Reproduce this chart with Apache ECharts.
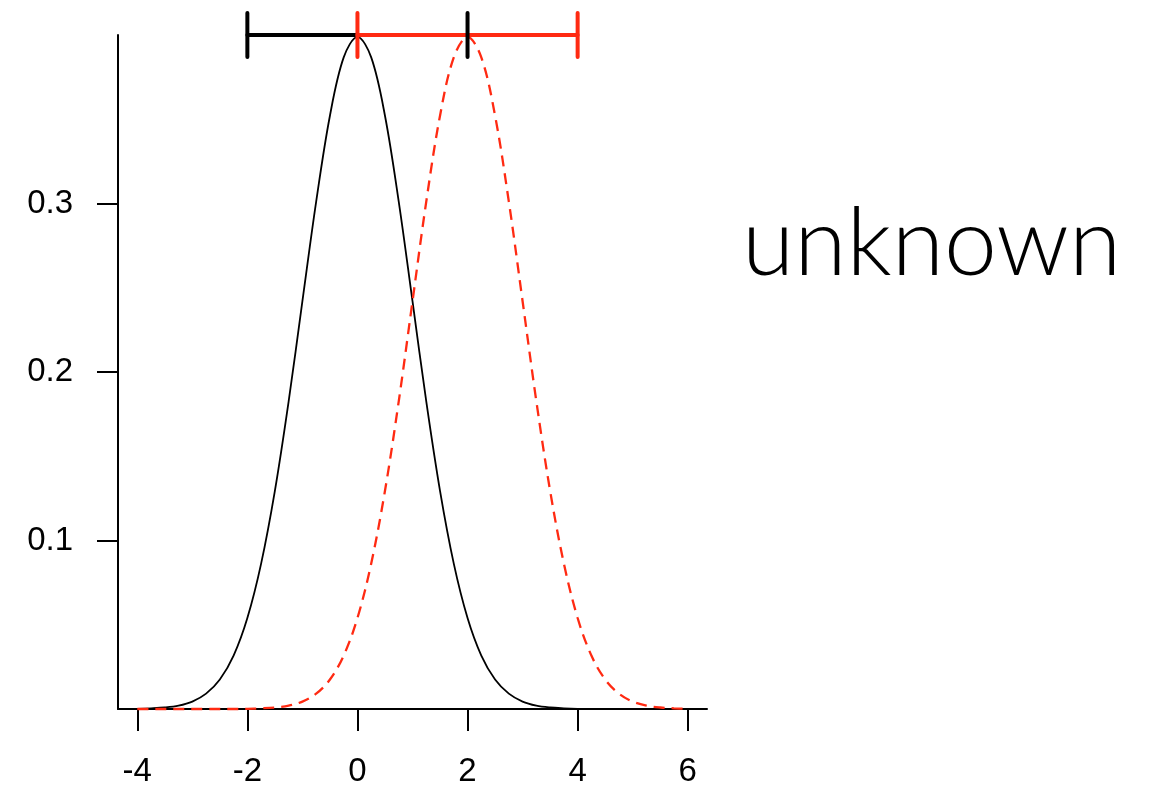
<!DOCTYPE html>
<html>
<head>
<meta charset="utf-8">
<script src="https://cdn.jsdelivr.net/npm/echarts@6/dist/echarts.min.js"></script>
<style>
  html, body { margin: 0; padding: 0; background: #fff; }
  #chart { width: 1154px; height: 789px; }
</style>
</head>
<body>
<div id="chart"></div>
<script>
// x positions shared by both density curves
const xValues = [-4, -3.75, -3.5, -3.25, -3, -2.75, -2.5, -2.25, -2, -1.75, -1.5, -1.25, -1, -0.75, -0.5, -0.25,
  0, 0.25, 0.5, 0.75, 1, 1.25, 1.5, 1.75, 2, 2.25, 2.5, 2.75, 3, 3.25, 3.5, 3.75, 4, 4.25, 4.5, 4.75, 5, 5.25, 5.5, 5.75, 6];

// density centred at 0 (solid black)
const densityA = [0.0001, 0.0004, 0.0009, 0.002, 0.0044, 0.0091, 0.0175, 0.0317, 0.054, 0.0863, 0.1295, 0.1826, 0.242, 0.3011, 0.3521, 0.3867,
  0.3989, 0.3867, 0.3521, 0.3011, 0.242, 0.1826, 0.1295, 0.0863, 0.054, 0.0317, 0.0175, 0.0091, 0.0044, 0.002, 0.0009, 0.0004, 0.0001, 0, 0, 0, 0, 0, 0, 0, 0];

// density centred at 2 (dashed red)
const densityB = [0, 0, 0, 0, 0, 0, 0, 0, 0.0001, 0.0004, 0.0009, 0.002, 0.0044, 0.0091, 0.0175, 0.0317,
  0.054, 0.0863, 0.1295, 0.1826, 0.242, 0.3011, 0.3521, 0.3867, 0.3989, 0.3867, 0.3521, 0.3011, 0.242, 0.1826, 0.1295, 0.0863,
  0.054, 0.0317, 0.0175, 0.0091, 0.0044, 0.002, 0.0009, 0.0004, 0.0001];

// interval bars drawn along the top: [low, high, height]
const barA = [-2, 2, 0.4];
const barB = [0, 4, 0.4];

const xTicks = [-4, -2, 0, 2, 4, 6];
const yTicks = [0.1, 0.2, 0.3];
const sideText = 'unknown';

const BLACK = '#000000';
const RED = '#ff2a12';

const chart = echarts.init(document.getElementById('chart'), null, { renderer: 'canvas' });

function pairs(ys) { return xValues.map((x, i) => [x, ys[i]]); }

function barPieces(bar, color, part, api) {
  const p0 = api.coord([bar[0], bar[2]]);
  const p1 = api.coord([bar[1], bar[2]]);
  const half = 22;
  const style = { stroke: color, lineWidth: 4, lineCap: 'round' };
  if (part === 'line') {
    return [{ type: 'line', shape: { x1: p0[0], y1: p0[1], x2: p1[0], y2: p1[1] }, style }];
  }
  return [p0, p1].map(p => ({ type: 'line', shape: { x1: p[0], y1: p[1] - half, x2: p[0], y2: p[1] + half }, style }));
}

const axisFont = { fontFamily: 'Liberation Sans, Arial, sans-serif', fontSize: 33, color: BLACK };

chart.setOption({
  animation: false,
  backgroundColor: '#ffffff',
  grid: { left: 118, right: 447, top: 35, bottom: 80 },
  xAxis: {
    type: 'value', min: -4.35, max: 6.35,
    splitLine: { show: false },
    axisLine: { show: true, onZero: false, lineStyle: { color: BLACK, width: 2 } },
    axisTick: { show: true, customValues: xTicks, length: 22, lineStyle: { color: BLACK, width: 2 } },
    axisLabel: Object.assign({ customValues: xTicks, margin: 46 }, axisFont)
  },
  yAxis: {
    type: 'value', min: 0, max: 0.4,
    splitLine: { show: false },
    axisLine: { show: true, onZero: false, lineStyle: { color: BLACK, width: 2 } },
    axisTick: { show: true, customValues: yTicks, length: 21, lineStyle: { color: BLACK, width: 2 } },
    axisLabel: Object.assign({ customValues: yTicks, margin: 45 }, axisFont)
  },
  graphic: [{
    type: 'text', left: 742, top: 197,
    style: { text: sideText, fontFamily: 'Lato, Inter, sans-serif', fontWeight: 300, fontSize: 95, fill: BLACK }
  }],
  series: [
    {
      type: 'line', data: pairs(densityA), smooth: 0.35, showSymbol: false, clip: false,
      lineStyle: { color: BLACK, width: 1.8 }, z: 3
    },
    {
      type: 'line', data: pairs(densityB), smooth: 0.35, showSymbol: false, clip: false,
      lineStyle: { color: RED, width: 2.3, type: [11, 7] }, z: 3
    },
    {
      type: 'custom', data: [0], clip: false, z: 5,
      renderItem: (params, api) => ({
        type: 'group',
        children: [].concat(
          barPieces(barA, BLACK, 'line', api),
          barPieces(barB, RED, 'line', api),
          barPieces(barB, RED, 'caps', api),
          barPieces(barA, BLACK, 'caps', api)
        )
      })
    }
  ]
});
</script>
</body>
</html>
